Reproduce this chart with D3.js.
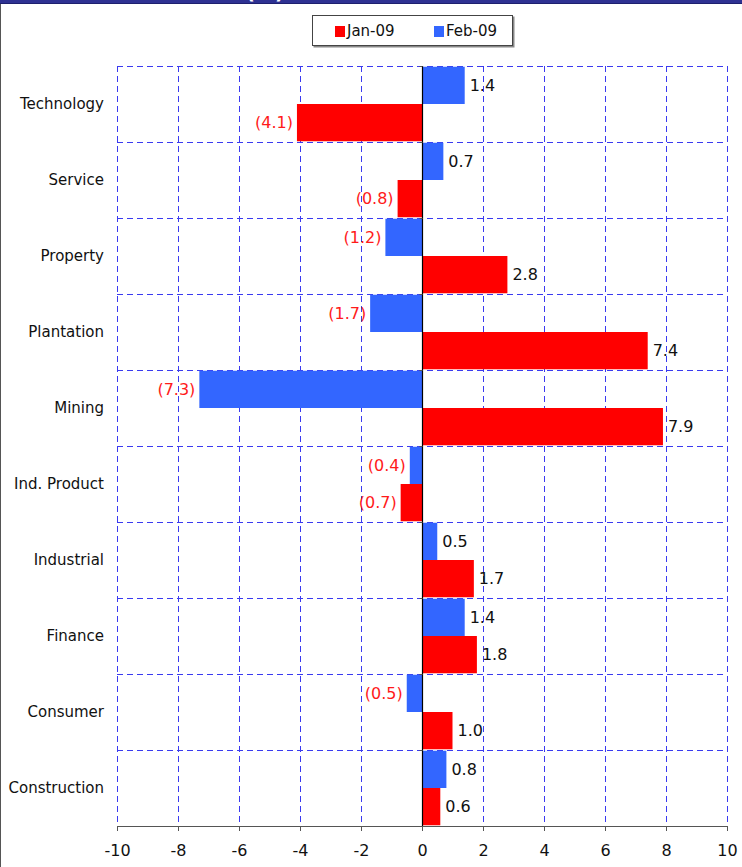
<!DOCTYPE html>
<html>
<head>
<meta charset="utf-8">
<script src="https://cdn.jsdelivr.net/npm/d3@7"></script>
<style>
  html, body { margin: 0; padding: 0; background: #fff; }
  svg { display: block; }
  text { font-family: "DejaVu Sans", sans-serif; }
</style>
</head>
<body>
<script>
// Sector returns, %
const sectors = ["Technology", "Service", "Property", "Plantation", "Mining",
                 "Ind. Product", "Industrial", "Finance", "Consumer", "Construction"];
const jan09 = [-4.1, -0.8, 2.8, 7.4, 7.9, -0.7, 1.7, 1.8, 1.0, 0.6];
const feb09 = [1.4, 0.7, -1.2, -1.7, -7.3, -0.4, 0.5, 1.4, -0.5, 0.8];
const seriesNames = ["Jan-09", "Feb-09"];
const xTicks = [-10, -8, -6, -4, -2, 0, 2, 4, 6, 8, 10];

const W = 742, H = 867;
const colors = { "Jan-09": "#ff0000", "Feb-09": "#3366ff" };
const gridColor = "#3a3af0";

const svg = d3.select("body").append("svg").attr("width", W).attr("height", H);

// header band and frame
svg.append("rect").attr("x", 0).attr("y", 0).attr("width", W).attr("height", 4).attr("fill", "#2e3192");
svg.append("rect").attr("x", 0).attr("y", 3).attr("width", W).attr("height", 1).attr("fill", "#1d1f6e");
svg.append("text").attr("x", 265).attr("y", -1).attr("text-anchor", "middle")
  .attr("font-size", 20).attr("font-weight", "bold").attr("fill", "#fff").text("(%)");
svg.append("line").attr("x1", 0.5).attr("x2", 0.5).attr("y1", 4).attr("y2", H)
  .attr("stroke", "#555").attr("stroke-width", 1);

const x = d3.scaleLinear().domain([-10, 10]).range([117, 727]);
const y = d3.scaleBand().domain(sectors).range([66, 826]).paddingInner(0).paddingOuter(0);
const inner = d3.scaleBand().domain(["Feb-09", "Jan-09"]).range([0, y.bandwidth()])
  .paddingOuter(0.02).paddingInner(0);

const plotTop = y.range()[0], plotBottom = y.range()[1];

// grid
const grid = svg.append("g").attr("stroke", gridColor).attr("stroke-width", 1)
  .attr("stroke-dasharray", "6,4").attr("fill", "none");
xTicks.filter(t => t !== 0).forEach(t => {
  grid.append("line").attr("x1", Math.round(x(t)) + 0.5).attr("x2", Math.round(x(t)) + 0.5)
    .attr("y1", plotTop).attr("y2", plotBottom);
});
sectors.forEach(s => {
  grid.append("line").attr("x1", x(-10)).attr("x2", x(10))
    .attr("y1", Math.round(y(s)) + 0.5).attr("y2", Math.round(y(s)) + 0.5);
});

// bars
const rows = sectors.map((s, i) => ({ sector: s, "Jan-09": jan09[i], "Feb-09": feb09[i] }));
const barData = [];
rows.forEach(r => seriesNames.forEach(k => barData.push({ sector: r.sector, key: k, value: r[k] })));

svg.append("g").selectAll("rect").data(barData).join("rect")
  .attr("x", d => x(Math.min(0, d.value)))
  .attr("width", d => Math.abs(x(d.value) - x(0)))
  .attr("y", d => y(d.sector) + inner(d.key))
  .attr("height", inner.bandwidth())
  .attr("fill", d => colors[d.key]);

// value labels
const fmt = v => v < 0 ? "(" + Math.abs(v).toFixed(1) + ")" : v.toFixed(1);
svg.append("g").selectAll("text").data(barData).join("text")
  .attr("x", d => d.value < 0 ? x(d.value) - 4 : x(d.value) + 5)
  .attr("y", d => y(d.sector) + inner(d.key) + inner.bandwidth() / 2)
  .attr("dy", "0.35em")
  .attr("text-anchor", d => d.value < 0 ? "end" : "start")
  .attr("font-size", 16)
  .attr("fill", d => d.value < 0 ? "#ff1a1a" : "#111")
  .text(d => fmt(d.value));

// zero axis with small ticks at band boundaries
const zx = Math.round(x(0)) + 0.5;
svg.append("line").attr("x1", zx).attr("x2", zx).attr("y1", plotTop).attr("y2", plotBottom)
  .attr("stroke", "#000").attr("stroke-width", 1.2);
const yb = sectors.map(s => y(s)).concat([plotBottom]);
svg.append("g").selectAll("line").data(yb).join("line")
  .attr("x1", zx - 3).attr("x2", zx).attr("y1", d => Math.round(d) + 0.5).attr("y2", d => Math.round(d) + 0.5)
  .attr("stroke", "#555");

// category labels
svg.append("g").selectAll("text").data(sectors).join("text")
  .attr("x", 104).attr("y", d => y(d) + y.bandwidth() / 2).attr("dy", "0.35em")
  .attr("text-anchor", "end").attr("font-size", 15).attr("fill", "#111").text(d => d);

// x axis
const xAxis = svg.append("g").attr("transform", `translate(0,${plotBottom})`)
  .call(d3.axisBottom(x).tickValues(xTicks).tickSize(5).tickPadding(14).tickFormat(d => String(d)));
xAxis.select(".domain").attr("stroke", "#555");
xAxis.selectAll(".tick line").attr("stroke", "#555");
xAxis.selectAll("text").attr("font-size", 16).attr("fill", "#111")
  .attr("font-family", "\"DejaVu Sans\", sans-serif");

// legend
const lg = svg.append("g");
lg.append("rect").attr("x", 313.5).attr("y", 16.5).attr("width", 201).attr("height", 31).attr("fill", "#888");
lg.append("rect").attr("x", 312.5).attr("y", 15.5).attr("width", 200).attr("height", 30)
  .attr("fill", "#fff").attr("stroke", "#444");
const legendItems = [{ key: "Jan-09", x: 335 }, { key: "Feb-09", x: 434 }];
legendItems.forEach(it => {
  lg.append("rect").attr("x", it.x).attr("y", 26).attr("width", 10).attr("height", 11).attr("fill", colors[it.key]);
  lg.append("text").attr("x", it.x + 12).attr("y", 31).attr("dy", "0.35em")
    .attr("font-size", 15).attr("fill", "#111").text(it.key);
});
</script>
</body>
</html>
